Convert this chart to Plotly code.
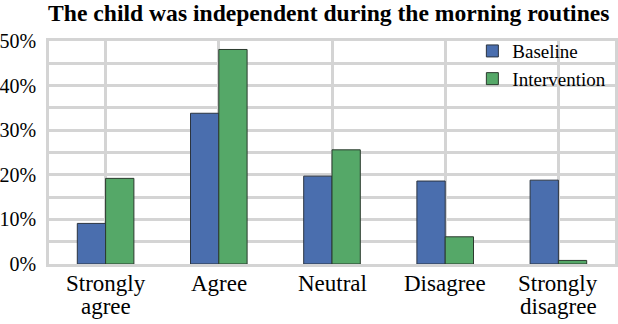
import plotly.graph_objects as go

categories = ["Strongly agree", "Agree", "Neutral", "Disagree", "Strongly disagree"]
label_lines = [("Strongly", "agree"), ("Agree", ""), ("Neutral", ""), ("Disagree", ""), ("Strongly", "disagree")]
baseline = [0.091, 0.338, 0.197, 0.186, 0.188]
intervention = [0.192, 0.481, 0.256, 0.061, 0.008]
y_ticks = [0, 0.1, 0.2, 0.3, 0.4, 0.5]
y_tick_labels = ["0%", "10%", "20%", "30%", "40%", "50%"]

serif = "Liberation Serif"
grid = "#d4d4d4"

fig = go.Figure()
fig.add_trace(go.Bar(x=categories, y=baseline, name="Baseline",
                     marker=dict(color="#4A6EAE", line=dict(color="#2b3440", width=1))))
fig.add_trace(go.Bar(x=categories, y=intervention, name="Intervention",
                     marker=dict(color="#55A868", line=dict(color="#2b3a2e", width=1))))

# category labels drawn as two tight lines under each group
for cat, (first, second) in zip(categories, label_lines):
    for i, line in enumerate((first, second)):
        if line:
            fig.add_annotation(x=cat, xref="x", y=0, yref="paper", yanchor="top",
                               yshift=-5 - 23 * i, text=line, showarrow=False,
                               font=dict(family=serif, size=23, color="black"))

fig.update_layout(
    width=618, height=324,
    margin=dict(l=49, r=0, t=41, b=60),
    paper_bgcolor="white", plot_bgcolor="white",
    barmode="group", bargap=0.5, bargroupgap=0,
    title=dict(text="<b>The child was independent during the morning routines</b>",
               x=0.532, xanchor="center", y=0.985, yanchor="top",
               font=dict(family=serif, size=23.6, color="black")),
    font=dict(family=serif, color="black"),
    legend=dict(x=0.748, y=1.04, xanchor="left", yanchor="top",
                bgcolor="rgba(0,0,0,0)", font=dict(family=serif, size=19, color="black"),
                tracegroupgap=0, itemwidth=30),
    showlegend=True,
)
fig.update_xaxes(showgrid=True, gridcolor=grid, gridwidth=2.5,
                 showline=True, linecolor=grid, linewidth=2.5, mirror=True,
                 ticks="", showticklabels=False)
fig.update_yaxes(range=[0, 0.5], tickvals=y_ticks, ticktext=y_tick_labels,
                 showgrid=True, gridcolor=grid, gridwidth=2.5,
                 minor=dict(dtick=0.05, showgrid=True, gridcolor=grid, gridwidth=2.5),
                 showline=True, linecolor=grid, linewidth=2.5, mirror=True,
                 zeroline=False, ticks="", ticklabelstandoff=6,
                 tickfont=dict(family=serif, size=20, color="black"))

fig.write_html("out.html")
